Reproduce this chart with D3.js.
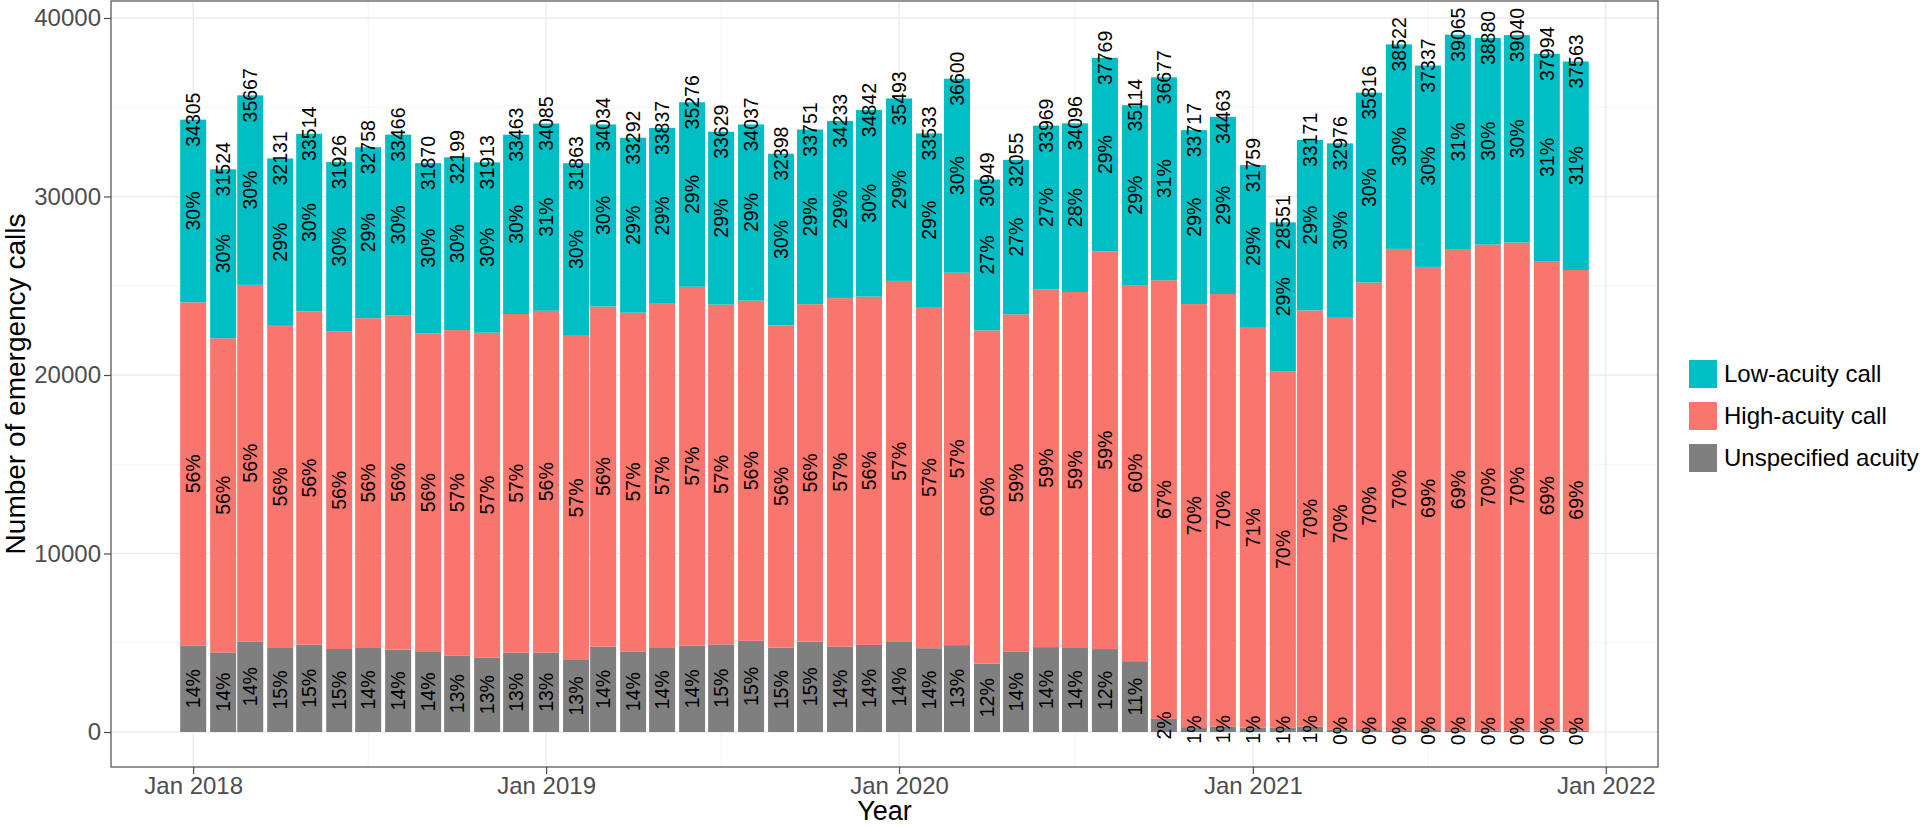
<!DOCTYPE html>
<html>
<head>
<meta charset="utf-8">
<script src="https://cdn.jsdelivr.net/npm/d3@7"></script>
<style>
  body { margin: 0; background: #fff; }
  text { font-family: "Liberation Sans", Arial, Helvetica, sans-serif; }
</style>
</head>
<body>
<div id="chart"></div>
<script>
// months (bar positions on the first of each month)
const months = [
  "2018-01","2018-02","2018-03","2018-04","2018-05","2018-06","2018-07","2018-08","2018-09","2018-10","2018-11","2018-12",
  "2019-01","2019-02","2019-03","2019-04","2019-05","2019-06","2019-07","2019-08","2019-09","2019-10","2019-11","2019-12",
  "2020-01","2020-02","2020-03","2020-04","2020-05","2020-06","2020-07","2020-08","2020-09","2020-10","2020-11","2020-12",
  "2021-01","2021-02","2021-03","2021-04","2021-05","2021-06","2021-07","2021-08","2021-09","2021-10","2021-11","2021-12"
];

const totals = [
  34305,31524,35667,32131,33514,31926,32758,33466,31870,32199,31913,33463,
  34085,31863,34034,33292,33837,35276,33629,34037,32398,33751,34233,34842,
  35493,33533,36600,30949,32055,33969,34096,37769,35114,36677,33717,34463,
  31759,28551,33171,32976,35816,38522,37337,39065,38880,39040,37994,37563
];

const unspecified = [
  4852,4460,5076,4706,4890,4650,4706,4611,4482,4291,4179,4443,
  4443,4034,4779,4515,4706,4835,4910,5106,4730,5063,4793,4878,
  5040,4695,4868,3838,4488,4756,4705,4646,3968,734,270,310,
  254,230,300,120,110,100,110,100,90,90,90,90
];

const high = [
  19220,17600,19974,18050,18670,17780,18475,18741,17847,18225,18190,18974,
  19156,18162,19059,18976,19287,20107,19034,19061,18046,18901,19513,19512,
  20231,19114,20862,18662,18912,20042,19946,22284,21068,24574,23703,24227,
  22390,19986,23319,23083,25071,26965,25949,26955,27216,27328,26290,25792
];

const low = [
  10233,9464,10617,9375,9954,9496,9577,10114,9541,9683,9544,10046,
  10486,9667,10196,9801,9844,10334,9685,9870,9622,9787,9927,10452,
  10222,9724,10870,8449,8655,9171,9445,10839,10078,11369,9744,9926,
  9115,8335,9552,9773,10635,11457,11278,12010,11574,11622,11614,11681
];

// percentage labels as printed on the bars
const unspecifiedPct = [
  14,14,14,15,15,15,14,14,14,13,13,13,
  13,13,14,14,14,14,15,15,15,15,14,14,
  14,14,13,12,14,14,14,12,11,2,1,1,
  1,1,1,0,0,0,0,0,0,0,0,0
];
const highPct = [
  56,56,56,56,56,56,56,56,56,57,57,57,
  56,57,56,57,57,57,57,56,56,56,57,56,
  57,57,57,60,59,59,59,59,60,67,70,70,
  71,70,70,70,70,70,69,69,70,70,69,69
];
const lowPct = [
  30,30,30,29,30,30,29,30,30,30,30,30,
  31,30,30,29,29,29,29,29,30,29,29,30,
  29,29,30,27,27,27,28,29,29,31,29,29,
  29,29,29,30,30,30,30,31,30,30,31,31
];

const yTicks = [0, 10000, 20000, 30000, 40000];
const yMinor = [5000, 15000, 25000, 35000];
const xTicks = ["2018-01","2019-01","2020-01","2021-01","2022-01"];
const xMinor = ["2018-07","2019-07","2020-07","2021-07"];

const seriesKeys = ["unspecified", "high", "low"];
const seriesNames = {low: "Low-acuity call", high: "High-acuity call", unspecified: "Unspecified acuity"};
const colors = {low: "#00BFC4", high: "#F8766D", unspecified: "#7F7F7F"};
const pctLabels = {low: lowPct, high: highPct, unspecified: unspecifiedPct};

const width = 1920, height = 826;
const panel = {left: 111, right: 1658, top: 1, bottom: 767};

const parse = d3.utcParse("%Y-%m");
const rows = months.map((m, i) => ({
  date: parse(m), total: totals[i],
  unspecified: unspecified[i], high: high[i], low: low[i], i: i
}));

const svg = d3.select("#chart").append("svg")
  .attr("width", width).attr("height", height);

const x = d3.scaleUtc()
  .domain([Date.UTC(2017, 9, 8), Date.UTC(2022, 1, 24)])
  .range([panel.left, panel.right]);
const y = d3.scaleLinear()
  .domain([-1961, 40952])
  .range([panel.bottom, panel.top]);

const barW = 26;

// grid
const grid = svg.append("g");
grid.selectAll(".ymin").data(yMinor).join("line")
  .attr("x1", panel.left).attr("x2", panel.right)
  .attr("y1", d => y(d)).attr("y2", d => y(d))
  .attr("stroke", "#f3f3f3").attr("stroke-width", 0.8);
grid.selectAll(".xmin").data(xMinor).join("line")
  .attr("x1", d => x(parse(d))).attr("x2", d => x(parse(d)))
  .attr("y1", panel.top).attr("y2", panel.bottom)
  .attr("stroke", "#f3f3f3").attr("stroke-width", 0.8);
grid.selectAll(".ymaj").data(yTicks).join("line")
  .attr("x1", panel.left).attr("x2", panel.right)
  .attr("y1", d => y(d)).attr("y2", d => y(d))
  .attr("stroke", "#ebebeb").attr("stroke-width", 1.4);
grid.selectAll(".xmaj").data(xTicks).join("line")
  .attr("x1", d => x(parse(d))).attr("x2", d => x(parse(d)))
  .attr("y1", panel.top).attr("y2", panel.bottom)
  .attr("stroke", "#ebebeb").attr("stroke-width", 1.4);

// stacked bars
const stacked = d3.stack().keys(seriesKeys)(rows);

const layers = svg.append("g").selectAll("g").data(stacked).join("g")
  .attr("fill", d => colors[d.key]);
layers.selectAll("rect").data(d => d).join("rect")
  .attr("x", d => x(d.data.date) - barW / 2)
  .attr("width", barW)
  .attr("y", d => y(d[1]))
  .attr("height", d => y(d[0]) - y(d[1]));

// percentage labels in the middle of each segment
const labels = svg.append("g")
  .attr("font-size", 19.5).attr("fill", "#000").attr("text-anchor", "middle");
stacked.forEach(layer => {
  labels.selectAll(null).data(layer).join("text")
    .attr("transform", d => "translate(" + x(d.data.date) + "," + y((d[0] + d[1]) / 2) + ") rotate(-90)")
    .attr("dy", "0.35em")
    .text(d => pctLabels[layer.key][d.data.i] + "%");
});

// totals at bar top
labels.selectAll(null).data(rows).join("text")
  .attr("transform", d => "translate(" + x(d.date) + "," + y(d.total) + ") rotate(-90)")
  .attr("dy", "0.35em")
  .text(d => d.total);

// panel border
svg.append("rect")
  .attr("x", panel.left).attr("y", panel.top)
  .attr("width", panel.right - panel.left).attr("height", panel.bottom - panel.top)
  .attr("fill", "none").attr("stroke", "#4d4d4d").attr("stroke-width", 1.2);

// y axis
const yAxis = svg.append("g")
  .attr("transform", "translate(" + panel.left + ",0)")
  .call(d3.axisLeft(y).tickValues(yTicks).tickSize(7).tickPadding(3).tickFormat(d3.format("d")));
yAxis.select(".domain").remove();
yAxis.selectAll(".tick line").attr("stroke", "#4d4d4d").attr("stroke-width", 1.2);
yAxis.selectAll(".tick text")
  .attr("fill", "#4d4d4d").attr("font-size", 24)
  .attr("font-family", "'Liberation Sans', Arial, sans-serif");

// x axis
const xAxis = svg.append("g")
  .attr("transform", "translate(0," + panel.bottom + ")")
  .call(d3.axisBottom(x).tickValues(xTicks.map(parse)).tickSize(7).tickPadding(3)
    .tickFormat(d3.utcFormat("%b %Y")));
xAxis.select(".domain").remove();
xAxis.selectAll(".tick line").attr("stroke", "#4d4d4d").attr("stroke-width", 1.2);
xAxis.selectAll(".tick text")
  .attr("fill", "#4d4d4d").attr("font-size", 24)
  .attr("font-family", "'Liberation Sans', Arial, sans-serif");

// axis titles
svg.append("text")
  .attr("x", (panel.left + panel.right) / 2).attr("y", 820)
  .attr("text-anchor", "middle").attr("font-size", 27).attr("fill", "#000")
  .text("Year");
svg.append("text")
  .attr("transform", "translate(25," + ((panel.top + panel.bottom) / 2) + ") rotate(-90)")
  .attr("text-anchor", "middle").attr("font-size", 28).attr("fill", "#000")
  .text("Number of emergency calls");

// legend
const legendKeys = ["low", "high", "unspecified"];
const legend = svg.append("g").attr("transform", "translate(1689,360)");
const item = legend.selectAll("g").data(legendKeys).join("g")
  .attr("transform", (d, i) => "translate(0," + (i * 42) + ")");
item.append("rect")
  .attr("width", 28).attr("height", 28)
  .attr("fill", d => colors[d]);
item.append("text")
  .attr("x", 35).attr("y", 14).attr("dy", "0.35em")
  .attr("font-size", 24).attr("fill", "#000")
  .text(d => seriesNames[d]);
</script>
</body>
</html>
